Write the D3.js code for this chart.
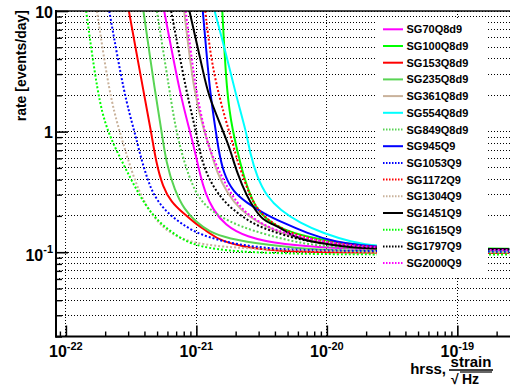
<!DOCTYPE html>
<html><head><meta charset="utf-8">
<script src="https://cdn.jsdelivr.net/npm/d3@7"></script>
<style>
body{margin:0;background:#fff}
svg{display:block}
text{font-family:"Liberation Sans",Arial,Helvetica,sans-serif;font-weight:bold;fill:#000}
</style>
</head><body>
<svg id="c" width="510" height="387"></svg>
<script>
// ---- data: [hrss, rate] ----
const SG70Q8d9 = [[5.67e-22,10],[7.51e-22,2.01],[8.96e-22,1.0],[9.97e-22,0.616],[1.07e-21,0.437],[1.17e-21,0.310],[1.345e-21,0.224],[1.66e-21,0.168],[2.37e-21,0.134],[4.63e-21,0.115],[1.12e-20,0.108],[2.56e-20,0.105],[2.5e-19,0.104]];
const SG100Q8d9 = [[1.58e-21,10],[1.71e-21,2.01],[1.90e-21,1.0],[2.17e-21,0.546],[2.44e-21,0.349],[2.82e-21,0.238],[3.47e-21,0.185],[4.65e-21,0.153],[7.03e-21,0.1345],[1.27e-20,0.1185],[2.56e-20,0.110],[2.5e-19,0.107]];
const SG153Q8d9 = [[3.04e-22,10],[3.98e-22,2.01],[4.50e-22,1.0],[4.92e-22,0.549],[5.54e-22,0.347],[6.41e-22,0.261],[7.92e-22,0.211],[9.97e-22,0.171],[1.23e-21,0.147],[1.52e-21,0.124],[2.58e-21,0.108],[4.63e-21,0.101],[2.56e-20,0.0985],[2.5e-19,0.0985]];
const SG235Q8d9 = [[3.93e-22,10],[4.86e-22,2.01],[5.42e-22,1.0],[5.87e-22,0.549],[6.80e-22,0.328],[8.11e-22,0.224],[9.97e-22,0.178],[1.25e-21,0.148],[1.72e-21,0.130],[3.49e-21,0.115],[8.43e-21,0.104],[2.56e-20,0.101],[2.5e-19,0.100]];
const SG361Q8d9 = [[8.06e-22,10],[9.62e-22,2.01],[1.15e-21,1.0],[1.28e-21,0.704],[1.44e-21,0.454],[1.72e-21,0.310],[2.17e-21,0.224],[2.92e-21,0.178],[4.16e-21,0.147],[7.06e-21,0.126],[1.33e-20,0.1125],[2.56e-20,0.107],[2.5e-19,0.104]];
const SG554Q8d9 = [[1.38e-21,10],[1.66e-21,4.75],[2.01e-21,2.01],[2.41e-21,1.0],[2.58e-21,0.661],[2.91e-21,0.423],[3.47e-21,0.289],[4.39e-21,0.224],[6.24e-21,0.174],[9.42e-21,0.1435],[1.51e-20,0.122],[2.56e-20,0.111],[5.19e-20,0.106],[2.5e-19,0.104]];
const SG849Q8d9 = [[4.98e-22,10],[6.30e-22,2.01],[7.00e-22,1.0],[8.11e-22,0.546],[9.40e-22,0.349],[1.11e-21,0.256],[1.44e-21,0.203],[2.17e-21,0.163],[3.49e-21,0.139],[6.24e-21,0.1185],[1.12e-20,0.110],[2.56e-20,0.104],[2.5e-19,0.102]];
const SG945Q9 = [[1.12e-21,10],[1.19e-21,4.75],[1.28e-21,2.01],[1.41e-21,1.0],[1.48e-21,0.704],[1.61e-21,0.454],[1.91e-21,0.316],[2.45e-21,0.256],[3.25e-21,0.211],[4.63e-21,0.175],[7.06e-21,0.144],[1.12e-20,0.122],[2.56e-20,0.108],[2.5e-19,0.106]];
const SG1053Q9 = [[2.15e-22,10],[2.80e-22,2.01],[3.36e-22,1.0],[3.71e-22,0.640],[4.12e-22,0.437],[4.67e-22,0.298],[5.87e-22,0.215],[7.92e-22,0.168],[1.07e-21,0.139],[1.91e-21,0.117],[3.49e-21,0.108],[6.24e-21,0.104],[2.56e-20,0.102],[2.5e-19,0.101]];
const SG1172Q9 = [[1.17e-21,10],[1.28e-21,4.32],[1.48e-21,2.01],[1.78e-21,1.0],[1.92e-21,0.774],[2.05e-21,0.581],[2.23e-21,0.454],[2.58e-21,0.289],[3.08e-21,0.210],[4.14e-21,0.163],[6.24e-21,0.1345],[1.12e-20,0.1185],[2.56e-20,0.108],[2.5e-19,0.106]];
const SG1304Q9 = [[1.73e-22,10],[2.16e-22,2.01],[2.58e-22,1.0],[3.00e-22,0.581],[3.58e-22,0.328],[4.43e-22,0.211],[5.77e-22,0.153],[7.92e-22,0.126],[1.28e-21,0.1125],[3.08e-21,0.106],[1.06e-20,0.102],[2.56e-20,0.100],[2.5e-19,0.100]];
const SG1451Q9 = [[8.85e-22,10],[1.13e-21,3.12],[1.23e-21,2.01],[1.61e-21,1.0],[1.82e-21,0.704],[2.05e-21,0.454],[2.45e-21,0.287],[2.82e-21,0.224],[3.25e-21,0.185],[3.81e-21,0.171],[4.55e-21,0.156],[5.52e-21,0.1345],[8.43e-21,0.1185],[1.51e-20,0.110],[2.56e-20,0.106],[2.5e-19,0.106]];
const SG1615Q9 = [[1.43e-22,10],[1.75e-22,2.01],[2.07e-22,1.0],[2.73e-22,0.549],[3.56e-22,0.310],[4.59e-22,0.203],[5.97e-22,0.156],[7.92e-22,0.126],[1.07e-21,0.111],[1.91e-21,0.101],[6.24e-21,0.0966],[2.56e-20,0.0957],[2.5e-19,0.0957]];
const SG1797Q9 = [[6.41e-22,10],[8.46e-22,2.01],[9.97e-22,1.0],[1.07e-21,0.640],[1.23e-21,0.412],[1.52e-21,0.287],[1.91e-21,0.224],[2.58e-21,0.178],[3.49e-21,0.153],[6.24e-21,0.126],[1.12e-20,0.115],[2.56e-20,0.107],[2.5e-19,0.105]];
const SG2000Q9 = [[8.28e-22,10],[9.97e-22,2.01],[1.17e-21,1.0],[1.21e-21,0.804],[1.44e-21,0.509],[1.72e-21,0.347],[2.05e-21,0.256],[2.58e-21,0.196],[3.88e-21,0.153],[6.24e-21,0.134],[1.12e-20,0.118],[2.56e-20,0.107],[2.5e-19,0.104]];

const seriesNames  = ["SG70Q8d9","SG100Q8d9","SG153Q8d9","SG235Q8d9","SG361Q8d9","SG554Q8d9","SG849Q8d9","SG945Q9","SG1053Q9","SG1172Q9","SG1304Q9","SG1451Q9","SG1615Q9","SG1797Q9","SG2000Q9"];
const seriesData   = [SG70Q8d9,SG100Q8d9,SG153Q8d9,SG235Q8d9,SG361Q8d9,SG554Q8d9,SG849Q8d9,SG945Q9,SG1053Q9,SG1172Q9,SG1304Q9,SG1451Q9,SG1615Q9,SG1797Q9,SG2000Q9];
const seriesColors = ["#ff00ff","#00ff00","#ff0000","#59d454","#c9b29b","#00ffff","#59d454","#0000ff","#0000ff","#ff0000","#c9b29b","#000000","#00ff00","#000000","#ff00ff"];
const seriesDotted = [false,false,false,false,false,false,true,false,true,true,true,false,true,true,true];

const xMajorTicks = [1e-22,1e-21,1e-20,1e-19];
const xTickExps   = ["-22","-21","-20","-19"];
const yMajorTicks = [0.1,1,10];
const yTickBase   = ["10","1","10"];
const yTickExps   = ["-1","",""];
const yTitle = "rate [events/day]";

// ---- layout ----
const L=56, T=11, B=336.5, R=519.6;
const svg = d3.select("#c");
const x = d3.scaleLog().domain([8.4e-23,3e-19]).range([L,R]);
const y = d3.scaleLog().domain([0.02,10]).range([B,T]);

const yAll=[], xMinor=[], yMinor=[];
[0.01,0.1,1].forEach(d=>{for(let k=2;k<=9;k++){const v=+(d*k).toPrecision(3); if(v>=0.02&&v<=10){yMinor.push(v);} }});
[0.1,1,10].forEach(d=>yAll.push(d));
yMinor.forEach(v=>yAll.push(v));
[1e-23,1e-22,1e-21,1e-20,1e-19].forEach(d=>{for(let k=2;k<=9;k++){const v=d*k; if(v>=8.4e-23&&v<=3e-19) xMinor.push(v);}});

// grid
const grid = svg.append("g").attr("stroke","#000").attr("stroke-width",1).attr("stroke-dasharray","1,2").attr("shape-rendering","crispEdges");
grid.selectAll("line.h").data(yAll).join("line").attr("class","h")
  .attr("x1",L).attr("x2",R).attr("y1",d=>y(d)).attr("y2",d=>y(d));
grid.selectAll("line.v").data(xMajorTicks).join("line").attr("class","v")
  .attr("x1",d=>x(d)).attr("x2",d=>x(d)).attr("y1",T).attr("y2",B);

// curves
svg.append("clipPath").attr("id","clip").append("rect").attr("x",L).attr("y",T).attr("width",R-L).attr("height",B-T);
const line = d3.line().x(d=>x(d[0])).y(d=>y(d[1])).curve(d3.curveBasis);
const cg = svg.append("g").attr("clip-path","url(#clip)");
seriesData.forEach((s,i)=>{
  cg.append("path").attr("d",line(s)).attr("fill","none")
    .attr("stroke",seriesColors[i]).attr("stroke-width",2)
    .attr("stroke-dasharray",seriesDotted[i]?"2,2":null);
});

// legend
const lg = svg.append("g");
lg.append("rect").attr("x",377).attr("y",18).attr("width",111).attr("height",258).attr("fill","#fff");
seriesNames.forEach((n,i)=>{
  const yy = 29.3 + i*16.7;
  lg.append("line").attr("x1",383).attr("x2",403).attr("y1",yy).attr("y2",yy)
    .attr("stroke",seriesColors[i]).attr("stroke-width",2)
    .attr("stroke-dasharray",seriesDotted[i]?"1.5,1.5":null);
  lg.append("text").attr("x",406.5).attr("y",yy+4).attr("font-size",11).text(n);
});

// axes
function styleAxis(g,w){g.select(".domain").remove(); g.selectAll(".tick line").attr("stroke","#000").attr("stroke-width",w);}
svg.append("g").attr("transform",`translate(0,${B})`)
  .call(d3.axisBottom(x).tickValues(xMajorTicks).tickSize(-11).tickFormat(""))
  .call(g=>styleAxis(g,1.6));
svg.append("g").attr("transform",`translate(0,${B})`)
  .call(d3.axisBottom(x).tickValues(xMinor).tickSize(-5).tickFormat(""))
  .call(g=>styleAxis(g,1.4));
svg.append("g").attr("transform",`translate(${L},0)`)
  .call(d3.axisLeft(y).tickValues(yMajorTicks).tickSize(-12).tickFormat(""))
  .call(g=>styleAxis(g,1.6));
svg.append("g").attr("transform",`translate(${L},0)`)
  .call(d3.axisLeft(y).tickValues(yMinor).tickSize(-6).tickFormat(""))
  .call(g=>styleAxis(g,1.4));
// frame lines
svg.append("line").attr("x1",L).attr("x2",L).attr("y1",T-1).attr("y2",B+1).attr("stroke","#000").attr("stroke-width",2);
svg.append("line").attr("x1",L-1).attr("x2",R).attr("y1",B).attr("y2",B).attr("stroke","#000").attr("stroke-width",2);
svg.append("line").attr("x1",L-1).attr("x2",R).attr("y1",T).attr("y2",T).attr("stroke","#000").attr("stroke-width",2).attr("opacity",0.7);

// x tick labels
xMajorTicks.forEach((v,i)=>{
  const t = svg.append("text").attr("x",x(v)).attr("y",357).attr("text-anchor","middle").attr("font-size",16);
  t.append("tspan").text("10");
  t.append("tspan").attr("dy",-7.5).attr("font-size",11).text(xTickExps[i]);
});
// y tick labels
yMajorTicks.forEach((v,i)=>{
  const t = svg.append("text").attr("x",53).attr("y",y(v)+(yTickExps[i]?8.5:6.8)).attr("text-anchor","end").attr("font-size",16);
  t.append("tspan").text(yTickBase[i]);
  if(yTickExps[i]) t.append("tspan").attr("dy",-7.5).attr("font-size",11).text(yTickExps[i]);
});

// y title
svg.append("text").attr("transform","translate(25.5,10) rotate(-90)").attr("text-anchor","end").attr("font-size",14).text(yTitle);

// x title
svg.append("text").attr("x",446).attr("y",374).attr("text-anchor","end").attr("font-size",15).text("hrss,");
svg.append("text").attr("x",471).attr("y",367).attr("text-anchor","middle").attr("font-size",15).text("strain");
svg.append("line").attr("x1",449).attr("x2",493).attr("y1",370).attr("y2",370).attr("stroke","#000").attr("stroke-width",1.5);
svg.append("text").attr("x",451).attr("y",384).attr("font-size",14).text("√");
svg.append("line").attr("x1",460).attr("x2",492).attr("y1",372).attr("y2",372).attr("stroke","#000").attr("stroke-width",1.2);
svg.append("text").attr("x",462).attr("y",384).attr("font-size",14).text("Hz");
</script>
</body></html>
